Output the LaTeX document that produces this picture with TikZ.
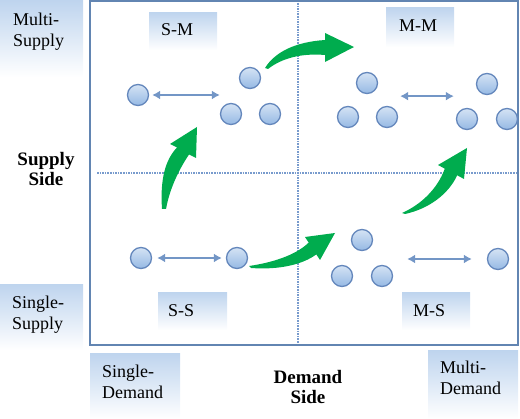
\documentclass[tikz,border=0pt]{standalone}
\usepackage{fontspec}
\setmainfont{Liberation Serif}
\usepackage{xcolor}
\usepackage{tikz}
\usetikzlibrary{arrows.meta,positioning,calc,shapes}

\definecolor{frameblue}{RGB}{98,133,178}
\definecolor{dotblue}{RGB}{120,155,205}
\definecolor{ballfill}{RGB}{150,185,228}
\definecolor{ballline}{RGB}{100,135,188}
\definecolor{linkblue}{RGB}{115,150,198}
\definecolor{tagblue}{RGB}{190,212,238}
\definecolor{movegreen}{RGB}{0,172,78}

\begin{document}
\begin{tikzpicture}[x=1pt,y=-1pt,
  tag/.style={rectangle, inner sep=0pt, anchor=north west, top color=tagblue, bottom color=white, draw=none},
  txt/.style={inner sep=0pt, align=left, font=\fontsize{18}{21}\selectfont},
  side/.style={inner sep=0pt, align=center, anchor=north, font=\fontsize{19}{20}\selectfont\bfseries},
  ball/.style={circle, draw=ballline, line width=1.3pt, top color=ballfill!40!white, bottom color=ballfill, minimum size=21pt, inner sep=0pt},
  link/.style={draw=linkblue, line width=2pt, {Latex[length=8pt,width=9pt]}-{Latex[length=8pt,width=9pt]}},
  move/.style={fill=movegreen, draw=none}]
      \useasboundingbox (0,0) rectangle (520,419);
      \node [tag, minimum width=83pt, minimum height=77pt] (msupbox) at (0,0) {};
      \node [tag, minimum width=83pt, minimum height=66pt] (ssupbox) at (0,284) {};
      \node [tag, minimum width=90pt, minimum height=66pt] (sdembox) at (90,353) {};
      \node [tag, minimum width=90pt, minimum height=69pt] (mdembox) at (428,350) {};
      \node [tag, minimum width=68pt, minimum height=38pt] (smbox) at (149,12) {};
      \node [tag, minimum width=68pt, minimum height=40pt] (mmbox) at (386,7) {};
      \node [tag, minimum width=69pt, minimum height=38pt] (ssbox) at (158,292) {};
      \node [tag, minimum width=68pt, minimum height=38pt] (msbox) at (402,292) {};

      \draw [frameblue, line width=2pt] (90,1) rectangle (518,345);
      \draw [dotblue, line width=2pt, dash pattern=on 1.6pt off 1pt] (298,3) -- (298,343) (97,173) -- (516,173);

      \node [ball] (sm1) at (138,95) {};
      \node [ball] (sma) at (250,78) {};
      \node [ball] (smb) at (231,114) {};
      \node [ball] (smc) at (270,114) {};
      \node [ball] (mma) at (367,83) {};
      \node [ball] (mmb) at (348,117) {};
      \node [ball] (mmc) at (387,117) {};
      \node [ball] (mmd) at (487,84) {};
      \node [ball] (mme) at (467,119) {};
      \node [ball] (mmf) at (507,119) {};
      \node [ball] (ss1) at (141,258) {};
      \node [ball] (ss2) at (237,258) {};
      \node [ball] (msa) at (362,240) {};
      \node [ball] (msb) at (342,276) {};
      \node [ball] (msc) at (382,276) {};
      \node [ball] (ms1) at (498,259) {};

      \draw [link, shorten <=3pt] (sm1.east) -- (sm1 -| smb.west);
      \draw [link] ($(mmc.east |- mma.south)+(2,2)$) -- ($(mme.west |- mma.south)+(-2,2)$);
      \draw [link, shorten <=5pt, shorten >=4pt] (ss1) -- (ss2);
      \draw [link, shorten <=14pt, shorten >=15pt] (msc.east |- ms1) -- (ms1.west);

      \fill [move] (162,209) .. controls (160,180) and (165,160) .. (177,147.5) -- (170,144) -- (197,127) -- (196,158) -- (189,154.5) .. controls (180,168) and (170,187) .. (166,209) -- cycle;
      \fill [move] (265,68) .. controls (275,52) and (295,42) .. (325,40) -- (325,33) -- (354,47) -- (325,62) -- (325,55) .. controls (302,53) and (282,58) .. (268,69) -- cycle;
      \fill [move] (249,266) .. controls (270,263) and (295,256) .. (308.7,242.6) -- (305,237) -- (335,233) -- (320,260) -- (316.3,254.4) .. controls (302,265) and (278,270) .. (251,268) -- cycle;
      \fill [move] (402,213) .. controls (420,205) and (437,190) .. (444.8,168.7) -- (438,165) -- (467,148) -- (464,179) -- (457.2,175.3) .. controls (448,195) and (428,209) .. (405,214) -- cycle;

      \node [txt, below right=12.5pt and 13pt of msupbox.north west] (msup) {Multi-\\Supply};
      \node [txt, below right=11.5pt and 12pt of ssupbox.north west] (ssup) {Single-\\Supply};
      \node [txt, below right=11.5pt and 12pt of sdembox.north west] (sdem) {Single-\\Demand};
      \node [txt, below right=10.5pt and 12pt of mdembox.north west] (mdem) {Multi-\\Demand};
      \node [txt, below right=11pt and 12pt of smbox.north west] (sm) {S-M};
      \node [txt, below right=13pt and 13pt of mmbox.north west] (mm) {M-M};
      \node [txt, below right=12pt and 10pt of ssbox.north west] (ss) {S-S};
      \node [txt, below right=12pt and 11pt of msbox.north west] (ms) {M-S};
      \node [side] (supside) at (46,152.5) {Supply\\Side};
      \node [side] (demside) at (308,370.5) {Demand\\Side};
\end{tikzpicture}
\end{document}
